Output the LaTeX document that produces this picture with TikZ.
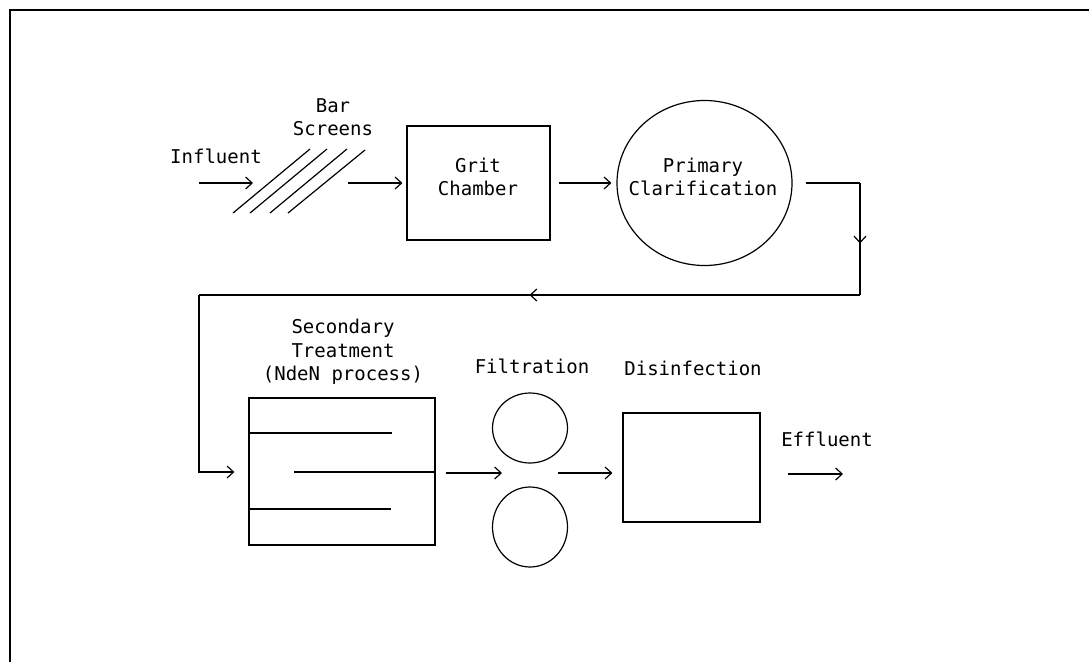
\documentclass[tikz,border=0pt]{standalone}
\usepackage{fontspec}
\setmonofont{DejaVu Sans Mono}
\usetikzlibrary{arrows.meta,decorations.markings,shapes.geometric}
\begin{document}
\begin{tikzpicture}[x=1pt,y=-1pt,
  line width=1.2pt,
  lbl/.style={font=\ttfamily\fontsize{19}{23.5}\selectfont, inner sep=0pt, align=center},
  flow/.style={-{Straight Barb[length=6.5pt,width=12pt]}},
  box/.style={draw, inner sep=0pt},
  oval/.style={draw, ellipse, inner sep=0pt},
  midarrow/.style={postaction={decorate}, decoration={markings, mark=at position #1 with {\arrow{Straight Barb[length=6.5pt,width=12pt]}}}}
]
\useasboundingbox (0,0) rectangle (1089,662);
% frame
\draw (10,662) -- (10,10) -- (1089,10);

% labels
\node[lbl] (influent) at (216,156) {Influent};
\node[lbl] (barscreens) at (333,117) {Bar\\Screens};
\node[lbl] (efflabel) at (827,439) {Effluent};
\node[lbl] (filtlabel) at (532,366) {Filtration};
\node[lbl] (dislabel) at (693,368) {Disinfection};

% bar screens
\draw (233,213) -- (310,149);
\draw (250,213) -- (327,149);
\draw (270,213) -- (347,149);
\draw (288,213) -- (365,150);

% units
\node[box, minimum width=143, minimum height=114] (grit) at (478.5,183) {};
\node[lbl] (gritlabel) at (478,177) {Grit\\Chamber};
\node[oval, minimum width=175, minimum height=165] (primary) at (704.5,183) {};
\node[lbl] (primlabel) at (703,177) {Primary\\Clarification};
\node[box, minimum width=186, minimum height=147] (secondary) at (342,471.5) {};
\node[lbl] (seclabel) at (343,352) {Secondary\\Treatment\\(NdeN process)};
\node[oval, minimum width=75, minimum height=70] (filtA) at (530,428) {};
\node[oval, minimum width=75, minimum height=80] (filtB) at (530,527) {};
\node[box, minimum width=137, minimum height=109] (disinf) at (691.5,467.5) {};

% baffles in secondary
\draw (249,433) -- (392,433);
\draw (294,472) -- (435,472);
\draw (249,509) -- (391,509);

% coordinates
\coordinate (inA) at (199,183);
\coordinate (inB) at (253,183);
\coordinate (scr) at (348,183);
\coordinate (r1) at (860,183);
\coordinate (r2) at (860,295);
\coordinate (r3) at (199,295);
\coordinate (r4) at (199,472);
\coordinate (fmid) at (530,473);
\coordinate (effA) at (788,474);
\coordinate (effB) at (843,474);

% connectors
\draw[flow] (inA) -- (inB);
\draw[flow, shorten >=4pt] (scr) -- (grit.west |- scr);
\draw[flow, shorten <=8pt, shorten >=5pt] (grit.east) -- (grit.east -| primary.west);
\draw[shorten <=13pt] (primary.east) -- (r1);
\draw[midarrow=0.54] (r1) -- (r2);
\draw[midarrow=0.5] (r2) -- (r3);
\draw[flow, shorten >=14pt] (r3) -- (r4) -- (secondary.west |- r4);
\draw[flow, shorten <=10pt, shorten >=28pt] (secondary.east |- fmid) -- (fmid);
\draw[flow, shorten <=28pt, shorten >=10pt] (fmid) -- (fmid -| disinf.west);
\draw[flow] (effA) -- (effB);
\end{tikzpicture}
\end{document}
